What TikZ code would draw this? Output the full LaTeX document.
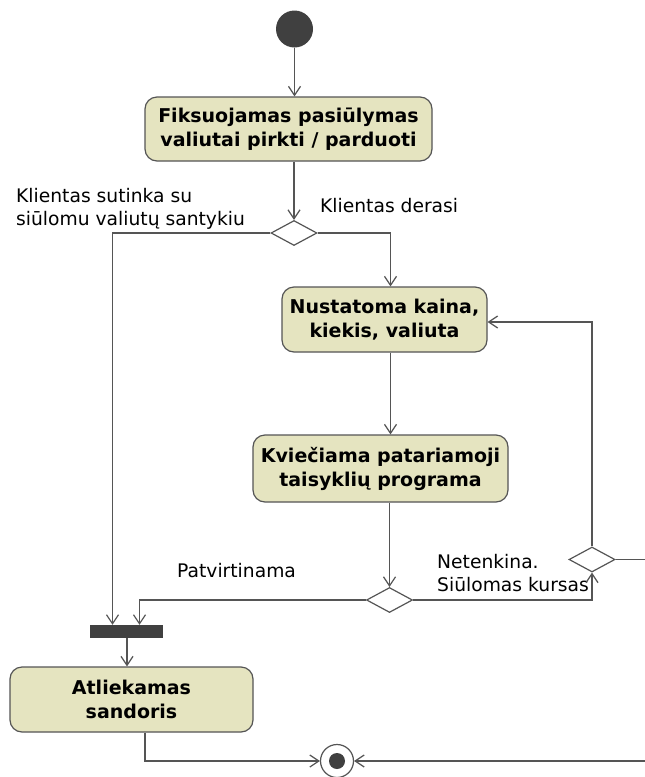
\documentclass[tikz,border=0pt]{standalone}
\usepackage{fontspec}
\setmainfont{DejaVu Sans}
\usetikzlibrary{arrows.meta,shapes.geometric,calc}
\definecolor{actfill}{RGB}{229,228,192}
\definecolor{edgegray}{RGB}{85,85,85}
\definecolor{solidgray}{RGB}{64,64,64}

\begin{document}
\begin{tikzpicture}[x=1pt,y=-1pt,
  action/.style={draw=edgegray, line width=1.2pt, fill=actfill, rounded corners=12pt,
    align=center, font=\fontsize{19}{24}\selectfont\bfseries, inner sep=0pt},
  decision/.style={draw=edgegray, line width=1.2pt, fill=white, diamond, inner sep=0pt,
    minimum width=46pt, minimum height=25pt},
  flow/.style={draw=edgegray, line width=1.2pt, -{Straight Barb[length=9pt,width=12pt]}},
  plain/.style={draw=edgegray, line width=1.2pt},
  guard/.style={font=\fontsize{18.7}{23}\selectfont, align=left, inner sep=0pt, anchor=base west}]

\useasboundingbox (0,0) rectangle (645,777);
\fill[white] (0,0) rectangle (645,777);

% initial and final states
\node[circle, fill=solidgray, minimum size=37pt, inner sep=0pt] (start) at (294.5,29) {};
\node[circle, draw=edgegray, line width=1.2pt, fill=white, minimum size=33pt, inner sep=0pt] (fin) at (337,761) {};
\node[circle, fill=solidgray, minimum size=16pt, inner sep=0pt] (finin) at (fin) {};

% actions
\node[action, minimum width=287pt, minimum height=64pt] (a1) at (288.5,129)
  {Fiksuojamas pasiūlymas\\valiutai pirkti / parduoti};
\node[action, minimum width=205pt, minimum height=65pt] (a2) at (384.5,319.5)
  {Nustatoma kaina,\\kiekis, valiuta};
\node[action, minimum width=255pt, minimum height=67pt] (a3) at (380.5,468.5)
  {Kviečiama patariamoji\\taisyklių programa};
\node[action, minimum width=243pt, minimum height=65pt] (a4) at (131.5,699.5)
  {Atliekamas\\sandoris};

% decisions and join bar
\node[decision] (d1) at (294,233) {};
\node[decision] (d2) at (389.5,600) {};
\node[decision] (d3) at (592,559.5) {};
\node[fill=solidgray, minimum width=73pt, minimum height=13pt, inner sep=0pt] (bar) at (126.5,631.5) {};

% guards (a multi-line node sits on the baseline of its last line)
\node[guard] (g1) at (16,225) {Klientas sutinka su\\siūlomu valiutų santykiu};
\node[guard] (g2) at (320,212) {Klientas derasi};
\node[guard] (g3) at (177,577) {Patvirtinama};
\node[guard] (g4) at (437,591) {Netenkina.\\Siūlomas kursas};

% flows
\draw[flow] (start.south) -- (start.south |- a1.north);
\draw[flow] (a1.south -| d1) -- (d1.north);
\draw[flow] (d1.west) -| ($(bar.north)+(-14,0)$);
\draw[flow] (d1.east) -| ([xshift=6pt]a2.north);
\draw[flow] ([xshift=6pt]a2.south) -- ([xshift=6pt]a2.south |- a3.north);
\draw[flow] (a3.south -| d2) -- (d2.north);
\draw[flow] (d2.west) -| ($(bar.north)+(13,0)$);
\draw[flow] (d2.east) -| (d3.south);
\draw[flow] (d3.north) |- ([yshift=-2.5pt]a2.east);
\draw[flow] ([xshift=0.5pt]bar.south) -- ([xshift=0.5pt]bar.south |- a4.north);
\draw[flow] ([xshift=13.5pt]a4.south) |- (fin.west);
\coordinate (out) at (665,559.5);
\draw[flow] (d3.east) -- (out) |- (fin.east);
\end{tikzpicture}
\end{document}
